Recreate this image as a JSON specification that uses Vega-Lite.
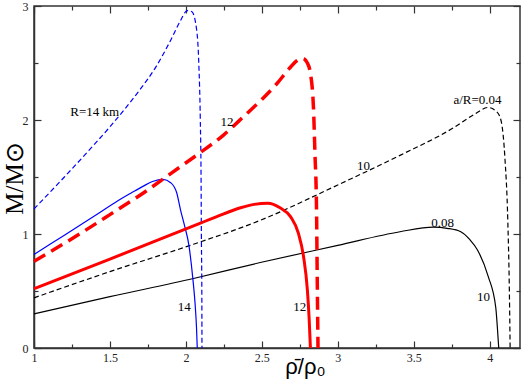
{
  "$schema": "https://vega.github.io/schema/vega-lite/v6.json",
  "width": 486,
  "height": 342,
  "autosize": {"type": "none"},
  "padding": {"left": 34, "top": 6, "right": 3, "bottom": 34},
  "background": "white",
  "config": {
    "view": {"stroke": "#333", "strokeWidth": 1.5},
    "axis": {"grid": false, "domainColor": "#333", "domainWidth": 1.5, "tickColor": "#333", "tickWidth": 1.2, "labelFont": "Liberation Serif", "labelFontSize": 12, "labelColor": "#222", "titleColor": "#000"},
    "line": {"interpolate": "monotone", "clip": true}
  },
  "datasets": {
    "curves": [
      {"s": "b04", "i": 0, "x": 1.0, "y": 1.22}, {"s": "b04", "i": 1, "x": 1.2, "y": 1.5}, {"s": "b04", "i": 2, "x": 1.4, "y": 1.79}, {"s": "b04", "i": 3, "x": 1.5, "y": 1.94}, {"s": "b04", "i": 4, "x": 1.6, "y": 2.1}, {"s": "b04", "i": 5, "x": 1.7, "y": 2.27}, {"s": "b04", "i": 6, "x": 1.8, "y": 2.46}, {"s": "b04", "i": 7, "x": 1.9, "y": 2.7}, {"s": "b04", "i": 8, "x": 1.96, "y": 2.86}, {"s": "b04", "i": 9, "x": 2.01, "y": 2.96}, {"s": "b04", "i": 10, "x": 2.04, "y": 2.95}, {"s": "b04", "i": 11, "x": 2.07, "y": 2.8}, {"s": "b04", "i": 12, "x": 2.085, "y": 2.5}, {"s": "b04", "i": 13, "x": 2.095, "y": 2.0}, {"s": "b04", "i": 14, "x": 2.1, "y": 1.5}, {"s": "b04", "i": 15, "x": 2.102, "y": 1.0}, {"s": "b04", "i": 16, "x": 2.105, "y": 0.5}, {"s": "b04", "i": 17, "x": 2.106, "y": 0.0},
      {"s": "b08", "i": 0, "x": 1.0, "y": 0.82}, {"s": "b08", "i": 1, "x": 1.2, "y": 0.99}, {"s": "b08", "i": 2, "x": 1.4, "y": 1.16}, {"s": "b08", "i": 3, "x": 1.55, "y": 1.29}, {"s": "b08", "i": 4, "x": 1.64, "y": 1.36}, {"s": "b08", "i": 5, "x": 1.72, "y": 1.42}, {"s": "b08", "i": 6, "x": 1.78, "y": 1.46}, {"s": "b08", "i": 7, "x": 1.85, "y": 1.48}, {"s": "b08", "i": 8, "x": 1.9, "y": 1.45}, {"s": "b08", "i": 9, "x": 1.94, "y": 1.36}, {"s": "b08", "i": 10, "x": 1.965, "y": 1.21}, {"s": "b08", "i": 11, "x": 1.99, "y": 1.08}, {"s": "b08", "i": 12, "x": 2.02, "y": 0.9}, {"s": "b08", "i": 13, "x": 2.045, "y": 0.62}, {"s": "b08", "i": 14, "x": 2.06, "y": 0.4}, {"s": "b08", "i": 15, "x": 2.07, "y": 0.18}, {"s": "b08", "i": 16, "x": 2.075, "y": 0.0},
      {"s": "r04", "i": 0, "x": 1.0, "y": 0.76}, {"s": "r04", "i": 1, "x": 1.3, "y": 1.0}, {"s": "r04", "i": 2, "x": 1.5, "y": 1.17}, {"s": "r04", "i": 3, "x": 1.72, "y": 1.36}, {"s": "r04", "i": 4, "x": 1.9, "y": 1.53}, {"s": "r04", "i": 5, "x": 2.09, "y": 1.71}, {"s": "r04", "i": 6, "x": 2.25, "y": 1.87}, {"s": "r04", "i": 7, "x": 2.38, "y": 2.03}, {"s": "r04", "i": 8, "x": 2.5, "y": 2.18}, {"s": "r04", "i": 9, "x": 2.6, "y": 2.32}, {"s": "r04", "i": 10, "x": 2.68, "y": 2.45}, {"s": "r04", "i": 11, "x": 2.73, "y": 2.52}, {"s": "r04", "i": 12, "x": 2.77, "y": 2.54}, {"s": "r04", "i": 13, "x": 2.8, "y": 2.5}, {"s": "r04", "i": 14, "x": 2.82, "y": 2.41}, {"s": "r04", "i": 15, "x": 2.84, "y": 2.11}, {"s": "r04", "i": 16, "x": 2.85, "y": 1.7}, {"s": "r04", "i": 17, "x": 2.86, "y": 1.24}, {"s": "r04", "i": 18, "x": 2.865, "y": 0.6}, {"s": "r04", "i": 19, "x": 2.87, "y": 0.0},
      {"s": "r08", "i": 0, "x": 1.0, "y": 0.52}, {"s": "r08", "i": 1, "x": 1.5, "y": 0.78}, {"s": "r08", "i": 2, "x": 2.03, "y": 1.06}, {"s": "r08", "i": 3, "x": 2.2, "y": 1.15}, {"s": "r08", "i": 4, "x": 2.36, "y": 1.23}, {"s": "r08", "i": 5, "x": 2.45, "y": 1.26}, {"s": "r08", "i": 6, "x": 2.54, "y": 1.27}, {"s": "r08", "i": 7, "x": 2.62, "y": 1.23}, {"s": "r08", "i": 8, "x": 2.69, "y": 1.15}, {"s": "r08", "i": 9, "x": 2.74, "y": 1.01}, {"s": "r08", "i": 10, "x": 2.775, "y": 0.8}, {"s": "r08", "i": 11, "x": 2.8, "y": 0.51}, {"s": "r08", "i": 12, "x": 2.812, "y": 0.25}, {"s": "r08", "i": 13, "x": 2.82, "y": 0.0},
      {"s": "k04", "i": 0, "x": 1.0, "y": 0.44}, {"s": "k04", "i": 1, "x": 1.5, "y": 0.67}, {"s": "k04", "i": 2, "x": 2.05, "y": 0.91}, {"s": "k04", "i": 3, "x": 2.49, "y": 1.12}, {"s": "k04", "i": 4, "x": 3.0, "y": 1.43}, {"s": "k04", "i": 5, "x": 3.41, "y": 1.69}, {"s": "k04", "i": 6, "x": 3.76, "y": 1.93}, {"s": "k04", "i": 7, "x": 3.9, "y": 2.05}, {"s": "k04", "i": 8, "x": 3.99, "y": 2.11}, {"s": "k04", "i": 9, "x": 4.04, "y": 2.08}, {"s": "k04", "i": 10, "x": 4.07, "y": 2.02}, {"s": "k04", "i": 11, "x": 4.1, "y": 1.68}, {"s": "k04", "i": 12, "x": 4.12, "y": 1.1}, {"s": "k04", "i": 13, "x": 4.13, "y": 0.5}, {"s": "k04", "i": 14, "x": 4.135, "y": 0.0},
      {"s": "k08", "i": 0, "x": 1.0, "y": 0.3}, {"s": "k08", "i": 1, "x": 1.5, "y": 0.45}, {"s": "k08", "i": 2, "x": 2.05, "y": 0.61}, {"s": "k08", "i": 3, "x": 2.49, "y": 0.75}, {"s": "k08", "i": 4, "x": 3.0, "y": 0.9}, {"s": "k08", "i": 5, "x": 3.41, "y": 1.02}, {"s": "k08", "i": 6, "x": 3.63, "y": 1.06}, {"s": "k08", "i": 7, "x": 3.72, "y": 1.05}, {"s": "k08", "i": 8, "x": 3.81, "y": 1.02}, {"s": "k08", "i": 9, "x": 3.87, "y": 0.95}, {"s": "k08", "i": 10, "x": 3.92, "y": 0.86}, {"s": "k08", "i": 11, "x": 3.99, "y": 0.63}, {"s": "k08", "i": 12, "x": 4.04, "y": 0.36}, {"s": "k08", "i": 13, "x": 4.058, "y": 0.04}, {"s": "k08", "i": 14, "x": 4.06, "y": 0.0}
    ],
    "labels": [
      {"t": "R=14 km", "x": 1.4, "y": 2.07},
      {"t": "12", "x": 2.27, "y": 1.98},
      {"t": "a/R=0.04", "x": 3.92, "y": 2.175},
      {"t": "10", "x": 3.17, "y": 1.6},
      {"t": "0.08", "x": 3.69, "y": 1.1},
      {"t": "14", "x": 1.99, "y": 0.36},
      {"t": "12", "x": 2.75, "y": 0.36},
      {"t": "10", "x": 3.96, "y": 0.45}
    ]
  },
  "resolve": {"axis": {"x": "independent", "y": "independent"}},
  "layer": [
    {
      "data": {"name": "curves"},
      "transform": [{"filter": "datum.s === 'k08'"}],
      "mark": {"type": "line", "color": "#000000", "strokeWidth": 1.2},
      "encoding": {
        "x": {"field": "x", "type": "quantitative", "scale": {"domain": [1, 4.2], "nice": false, "zero": false},
          "axis": {"orient": "bottom", "title": "ρ̄/ρ₀", "titleFont": "Liberation Sans", "titleFontSize": 22, "titleFontWeight": "normal", "titleX": 271, "titleY": 8, "titleBaseline": "top",
            "values": [1, 1.25, 1.5, 1.75, 2, 2.25, 2.5, 2.75, 3, 3.25, 3.5, 3.75, 4],
            "format": "~g",
            "labelExpr": "datum.value % 0.5 === 0 ? datum.label : ''",
            "tickSize": {"condition": {"test": "datum.value % 0.5 !== 0", "value": -4}, "value": -7},
            "labelPadding": 11, "labelFlush": false}},
        "y": {"field": "y", "type": "quantitative", "scale": {"domain": [0, 3], "nice": false},
          "axis": {"orient": "left", "title": "M/M⊙", "titleFont": "Liberation Serif", "titleFontSize": 25, "titleFontWeight": "normal", "titleX": -20, "titleY": 172, "titleAngle": -90, "titleAlign": "center", "titleBaseline": "middle",
            "values": [0, 0.5, 1, 1.5, 2, 2.5, 3],
            "format": "~g",
            "labelExpr": "datum.value % 1 === 0 ? datum.label : ''",
            "tickSize": {"condition": {"test": "datum.value % 1 !== 0", "value": -4}, "value": -7},
            "labelPadding": 13, "labelFlush": false}},
        "order": {"field": "i", "type": "quantitative"}
      }
    },
    {
      "data": {"name": "curves"},
      "transform": [{"filter": "datum.s === 'k04'"}],
      "mark": {"type": "line", "color": "#000000", "strokeWidth": 1.2, "strokeDash": [5, 3]},
      "encoding": {
        "x": {"field": "x", "type": "quantitative", "axis": null},
        "y": {"field": "y", "type": "quantitative", "axis": null},
        "order": {"field": "i", "type": "quantitative"}
      }
    },
    {
      "data": {"name": "curves"},
      "transform": [{"filter": "datum.s === 'b08'"}],
      "mark": {"type": "line", "color": "#0000ff", "strokeWidth": 1.2},
      "encoding": {
        "x": {"field": "x", "type": "quantitative", "axis": null},
        "y": {"field": "y", "type": "quantitative", "axis": null},
        "order": {"field": "i", "type": "quantitative"}
      }
    },
    {
      "data": {"name": "curves"},
      "transform": [{"filter": "datum.s === 'b04'"}],
      "mark": {"type": "line", "color": "#0000ff", "strokeWidth": 1.2, "strokeDash": [5, 3]},
      "encoding": {
        "x": {"field": "x", "type": "quantitative", "axis": null},
        "y": {"field": "y", "type": "quantitative", "axis": null},
        "order": {"field": "i", "type": "quantitative"}
      }
    },
    {
      "data": {"name": "curves"},
      "transform": [{"filter": "datum.s === 'r08'"}],
      "mark": {"type": "line", "color": "#ff0000", "strokeWidth": 3},
      "encoding": {
        "x": {"field": "x", "type": "quantitative", "axis": null},
        "y": {"field": "y", "type": "quantitative", "axis": null},
        "order": {"field": "i", "type": "quantitative"}
      }
    },
    {
      "data": {"name": "curves"},
      "transform": [{"filter": "datum.s === 'r04'"}],
      "mark": {"type": "line", "color": "#ff0000", "strokeWidth": 3.5, "strokeDash": [13, 7]},
      "encoding": {
        "x": {"field": "x", "type": "quantitative", "axis": null},
        "y": {"field": "y", "type": "quantitative", "axis": null},
        "order": {"field": "i", "type": "quantitative"}
      }
    },
    {
      "data": {"name": "labels"},
      "mark": {"type": "text", "font": "Liberation Serif", "fontSize": 13, "color": "#000", "align": "center", "baseline": "middle"},
      "encoding": {
        "x": {"field": "x", "type": "quantitative",
          "axis": {"orient": "top", "title": null, "labels": false, "domain": false,
            "values": [1, 1.25, 1.5, 1.75, 2, 2.25, 2.5, 2.75, 3, 3.25, 3.5, 3.75, 4],
            "tickSize": {"condition": {"test": "datum.value % 0.5 !== 0", "value": -4}, "value": -7}}},
        "y": {"field": "y", "type": "quantitative",
          "axis": {"orient": "right", "title": null, "labels": false, "domain": false,
            "values": [0, 0.5, 1, 1.5, 2, 2.5, 3],
            "tickSize": {"condition": {"test": "datum.value % 1 !== 0", "value": -4}, "value": -7}}},
        "text": {"field": "t", "type": "nominal"}
      }
    }
  ]
}
